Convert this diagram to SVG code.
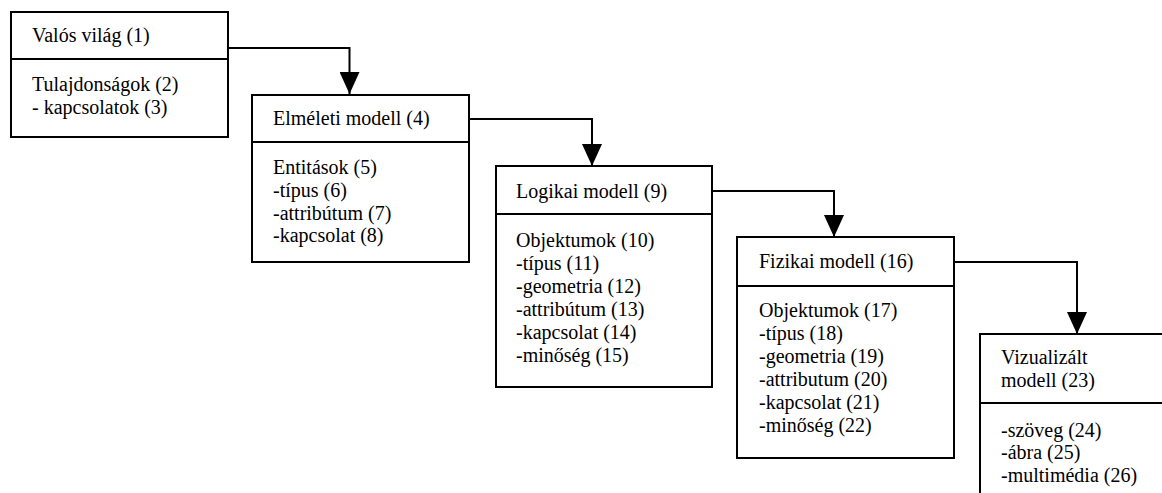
<svg xmlns="http://www.w3.org/2000/svg" width="1162" height="493" viewBox="0 0 1162 493">
  <style>
    .box { fill: #ffffff; stroke: #000000; stroke-width: 2; }
    .div { stroke: #000000; stroke-width: 2; }
    .conn { fill: none; stroke: #000000; stroke-width: 2; }
  </style>
  <defs>
    <marker id="arrow" markerUnits="userSpaceOnUse" markerWidth="22" markerHeight="20" refX="22" refY="10" orient="auto">
      <path d="M0,0 L22,10 L0,20 Z" fill="#000000"/>
    </marker>
  </defs>
  <rect width="1162" height="493" fill="#ffffff"/>

  <g id="connectors">
    <path class="conn" d="M228,48 H349.5 V94" marker-end="url(#arrow)"/>
    <path class="conn" d="M469,119 H592 V166" marker-end="url(#arrow)"/>
    <path class="conn" d="M712,191 H834 V237" marker-end="url(#arrow)"/>
    <path class="conn" d="M954,262 H1077 V334" marker-end="url(#arrow)"/>
  </g>

  <g id="node1">
    <rect class="box" x="11" y="12" width="217" height="125"/>
    <line class="div" x1="11" y1="59" x2="228" y2="59"/>
    <text x="32" y="42" font-family="Times New Roman" font-size="20">Valós világ (1)</text>
    <text x="32" y="91" font-family="Times New Roman" font-size="20">Tulajdonságok (2)</text>
    <text x="32" y="114" font-family="Times New Roman" font-size="20">- kapcsolatok (3)</text>
  </g>

  <g id="node2">
    <rect class="box" x="252" y="95" width="217" height="167"/>
    <line class="div" x1="252" y1="142" x2="469" y2="142"/>
    <text x="273" y="125" font-family="Times New Roman" font-size="20">Elméleti modell (4)</text>
    <text x="273" y="174" font-family="Times New Roman" font-size="20">Entitások (5)</text>
    <text x="273" y="197" font-family="Times New Roman" font-size="20">-típus (6)</text>
    <text x="273" y="220" font-family="Times New Roman" font-size="20">-attribútum (7)</text>
    <text x="273" y="242" font-family="Times New Roman" font-size="20">-kapcsolat (8)</text>
  </g>

  <g id="node3">
    <rect class="box" x="496" y="166" width="216" height="221"/>
    <line class="div" x1="496" y1="214" x2="712" y2="214"/>
    <text x="516" y="198" font-family="Times New Roman" font-size="20">Logikai modell (9)</text>
    <text x="516" y="247" font-family="Times New Roman" font-size="20">Objektumok (10)</text>
    <text x="516" y="270" font-family="Times New Roman" font-size="20">-típus (11)</text>
    <text x="516" y="293" font-family="Times New Roman" font-size="20">-geometria (12)</text>
    <text x="516" y="316" font-family="Times New Roman" font-size="20">-attribútum (13)</text>
    <text x="516" y="339" font-family="Times New Roman" font-size="20">-kapcsolat (14)</text>
    <text x="516" y="362" font-family="Times New Roman" font-size="20">-minőség (15)</text>
  </g>

  <g id="node4">
    <rect class="box" x="737" y="237" width="217" height="221"/>
    <line class="div" x1="737" y1="286" x2="954" y2="286"/>
    <text x="759" y="268" font-family="Times New Roman" font-size="20">Fizikai modell (16)</text>
    <text x="759" y="317" font-family="Times New Roman" font-size="20">Objektumok (17)</text>
    <text x="759" y="340" font-family="Times New Roman" font-size="20">-típus (18)</text>
    <text x="759" y="363" font-family="Times New Roman" font-size="20">-geometria (19)</text>
    <text x="759" y="386" font-family="Times New Roman" font-size="20">-attributum (20)</text>
    <text x="759" y="409" font-family="Times New Roman" font-size="20">-kapcsolat (21)</text>
    <text x="759" y="432" font-family="Times New Roman" font-size="20">-minőség (22)</text>
  </g>

  <g id="node5">
    <rect class="box" x="980" y="334" width="220" height="200"/>
    <line class="div" x1="980" y1="403" x2="1162" y2="403"/>
    <text x="1001" y="364" font-family="Times New Roman" font-size="20">Vizualizált</text>
    <text x="1001" y="387" font-family="Times New Roman" font-size="20">modell (23)</text>
    <text x="1001" y="437" font-family="Times New Roman" font-size="20">-szöveg (24)</text>
    <text x="1001" y="459" font-family="Times New Roman" font-size="20">-ábra (25)</text>
    <text x="1001" y="482" font-family="Times New Roman" font-size="20">-multimédia (26)</text>
  </g>
</svg>
